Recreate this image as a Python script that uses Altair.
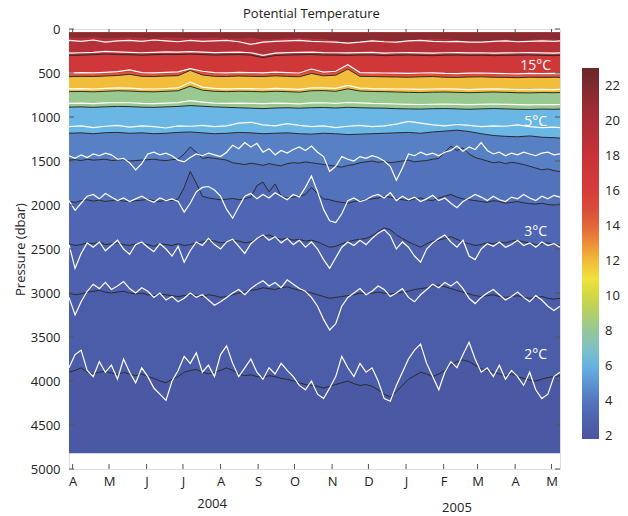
import altair as alt
import pandas as pd

alt.data_transformers.disable_max_rows()

FONT = "Open Sans"

# ---------------- sampling of the time axis ----------------
FINE_DATES = [d.strftime("%Y-%m-%d") for d in pd.date_range("2004-03-29", periods=82, freq="5D")]
COARSE_DATES = FINE_DATES[0::2] + [FINE_DATES[-1]]

MONTH_TICKS = ["2004-04-01", "2004-05-01", "2004-06-01", "2004-07-01", "2004-08-01",
               "2004-09-01", "2004-10-01", "2004-11-01", "2004-12-01", "2005-01-01",
               "2005-02-01", "2005-03-01", "2005-04-01", "2005-05-01"]
PRESSURE_TICKS = [0, 500, 1000, 1500, 2000, 2500, 3000, 3500, 4000, 4500, 5000]
COLORBAR_TICKS = [2, 4, 6, 8, 10, 12, 14, 16, 18, 20, 22]

SURFACE = 40      # dbar, top of data
BOTTOM = 4820     # dbar, bottom of data

# ---------------- upper isotherms (10-day sampling) ----------------
b1 = [95, 100, 90, 105, 100, 95, 100, 110, 95, 100, 105,
      100, 95, 105, 110, 100, 120, 115, 105, 100, 110,
      115, 130, 165, 150, 120, 125, 150, 135, 120, 110,
      115, 125, 155, 150, 135, 120, 130, 125, 115, 120, 125, 120][:42]
w1 = [130, 140, 125, 150, 135, 130, 140, 125, 135, 145, 130,
      140, 135, 130, 145, 175, 150, 140, 135, 130, 140,
      145, 150, 160, 150, 135, 145, 150, 135, 130, 140,
      145, 140, 150, 150, 140, 135, 145, 140, 135, 140, 135]
w2 = [275, 270, 265, 255, 260, 265, 270, 265, 260, 262, 258,
      262, 268, 265, 262, 270, 300, 275, 268, 265, 262,
      268, 270, 272, 268, 266, 275, 270, 268, 272, 275,
      270, 268, 272, 270, 275, 272, 270, 268, 272, 275, 272]
b2 = [300, 298, 292, 285, 290, 292, 298, 292, 288, 290, 285,
      290, 296, 294, 290, 298, 325, 302, 296, 293, 290,
      296, 298, 300, 296, 295, 303, 298, 296, 300, 303,
      298, 296, 300, 298, 303, 300, 298, 296, 300, 303, 300]
w3 = [500, 495, 498, 492, 485, 465, 495, 498, 492, 488, 450,
      480, 495, 498, 492, 495, 498, 490, 495, 500, 455,
      490, 480, 405, 495, 498, 500, 502, 505, 500, 498,
      505, 508, 502, 500, 505, 508, 510, 505, 508, 505, 508]
b3 = [515, 510, 512, 506, 500, 485, 510, 512, 506, 502, 455,
      495, 510, 512, 506, 510, 512, 505, 510, 515, 475,
      505, 495, 425, 510, 512, 515, 517, 520, 515, 512,
      520, 522, 517, 515, 520, 522, 525, 520, 522, 520, 522]
bo = [542, 538, 540, 534, 528, 515, 538, 540, 534, 530, 470,
      522, 538, 540, 534, 538, 540, 532, 538, 543, 505,
      532, 525, 455, 538, 540, 543, 545, 548, 543, 540,
      548, 550, 545, 543, 548, 550, 553, 548, 550, 548, 550]
w4 = [680, 678, 682, 675, 670, 672, 680, 682, 676, 670, 605,
      660, 675, 680, 676, 678, 682, 675, 680, 685, 670,
      668, 675, 640, 672, 678, 680, 682, 684, 686, 682,
      680, 684, 688, 684, 680, 684, 688, 690, 686, 688, 686]
b4 = [712, 710, 714, 708, 702, 705, 712, 714, 708, 702, 650,
      695, 708, 712, 708, 710, 714, 708, 712, 718, 702,
      700, 708, 680, 705, 710, 712, 716, 720, 722, 718,
      716, 720, 724, 720, 716, 720, 724, 726, 722, 724, 722]
w5 = [845, 842, 848, 840, 835, 838, 845, 848, 842, 836, 815,
      830, 842, 846, 842, 845, 848, 842, 846, 850, 840,
      838, 845, 835, 840, 846, 848, 852, 856, 858, 855,
      852, 856, 860, 856, 852, 856, 860, 862, 858, 860, 858]
b5 = [888, 885, 890, 884, 880, 882, 888, 890, 885, 880, 870,
      878, 885, 890, 895, 900, 905, 898, 895, 900, 895,
      892, 898, 890, 895, 898, 900, 905, 908, 910, 906,
      904, 908, 912, 908, 904, 908, 912, 914, 910, 912, 910]
w6 = [1110, 1100, 1120, 1105, 1095, 1115, 1100, 1110, 1125, 1100, 1105,
      1095, 1110, 1100, 1070, 1060, 1090, 1100, 1075, 1095, 1110,
      1100, 1120, 1105, 1095, 1110, 1100, 1080, 1050, 1070, 1090,
      1100, 1085, 1095, 1110, 1100, 1105, 1090, 1110, 1120, 1115, 1120]
b6 = [1185, 1180, 1190, 1178, 1175, 1185, 1180, 1190, 1185, 1175, 1170,
      1180, 1190, 1185, 1175, 1180, 1190, 1185, 1180, 1190, 1195,
      1185, 1190, 1200, 1195, 1190, 1185, 1180, 1175, 1185, 1170,
      1160, 1150, 1165, 1190, 1210, 1220, 1225, 1215, 1230, 1235, 1240]

# ---------------- deep isotherms (5-day sampling) ----------------
w7 = [1440, 1470, 1430, 1460, 1420, 1440, 1410,
      1430, 1480, 1470, 1520, 1600, 1530,
      1420, 1400, 1430, 1410, 1440, 1490,
      1510, 1460, 1420, 1440, 1410,
      1430, 1450, 1400,
      1320, 1360, 1290, 1340, 1300,
      1400, 1360, 1430, 1380, 1410,
      1370, 1340, 1380, 1330, 1400, 1450,
      1620, 1560, 1450,
      1480, 1500, 1450, 1470, 1440, 1460, 1500, 1560,
      1720, 1580,
      1420, 1440, 1400, 1430, 1410, 1440, 1400,
      1380, 1330, 1390, 1340, 1370, 1290, 1380,
      1420, 1400, 1440, 1410, 1430, 1400, 1420, 1440, 1410, 1400, 1430, 1420]
b7 = [1490, 1485, 1495, 1480, 1490, 1485, 1480, 1495, 1490, 1485, 1500, 1495, 1490, 1485, 1480, 1490, 1495, 1485, 1480,
      1420, 1340, 1400, 1470,
      1460, 1470, 1480, 1490,
      1520, 1530, 1540, 1525, 1535, 1550, 1530, 1545, 1555, 1530, 1520,
      1525, 1510, 1520, 1530, 1540, 1550,
      1560, 1570, 1550, 1540, 1520, 1510, 1500, 1515, 1505, 1520,
      1510, 1500, 1490, 1510, 1500, 1495, 1480, 1470,
      1400, 1330, 1380, 1350, 1420, 1460,
      1480, 1500, 1520, 1510, 1530, 1515, 1525, 1540,
      1560, 1580, 1600, 1590, 1610, 1620]
w8 = [1950, 2060, 1980,
      1900, 1880, 1930, 1870, 1910,
      1950, 1920, 1960, 1930, 1900, 1940, 1970, 1920, 1950, 1930, 1960,
      2080, 1980,
      1850, 1800, 1790, 1830,
      1900, 2050, 2150, 2020,
      1900, 1870, 1930, 1880, 1920, 1860, 1900, 1940, 1880, 1910,
      1800, 1670, 1850,
      2050, 2180, 2200, 2100,
      1950, 1920, 1960, 1940, 1900,
      1880, 1920, 1860, 1950, 1900,
      1940, 1910, 1960, 1930, 1890, 1950, 1920,
      1980, 2030, 1960, 1920, 1880,
      1910, 1950, 1900, 1940, 1960, 1910,
      1930, 1880, 1920, 1950, 1900, 1930, 1890, 1910]
b8 = [1960, 1970, 1950, 1940, 1955, 1945, 1960, 1950, 1940, 1955, 1960, 1950, 1945, 1935, 1950, 1960, 1940, 1950, 1930,
      1800, 1620, 1750,
      1900, 1920, 1930, 1940, 1935, 1925, 1940, 1930, 1910,
      1780, 1740, 1850, 1760,
      1900, 1920, 1910, 1900, 1880, 1800, 1870,
      1930, 1940, 1960, 1970, 1980, 1960, 1950, 1940, 1930,
      1920, 1900, 1910, 1930, 1940, 1950, 1930, 1920, 1940, 1950,
      1920, 1900, 1880, 1910, 1930, 1940, 1950,
      1960, 1970, 1950, 1960, 1980, 1970, 1960, 1975, 1985, 1990, 1980, 1995, 2000, 1990]
w9 = [2450, 2720, 2550, 2430, 2480, 2420, 2520, 2460, 2400, 2500,
      2560, 2450, 2420, 2480, 2530, 2440, 2500, 2580, 2470, 2650,
      2520, 2420, 2460, 2380, 2450, 2500, 2420, 2390, 2470, 2550,
      2440, 2380, 2340, 2400, 2360, 2430, 2380, 2450, 2400, 2480,
      2420, 2500, 2620, 2720, 2600, 2480, 2420, 2460, 2400, 2450,
      2380, 2320, 2280, 2350, 2500, 2420, 2480, 2580, 2650, 2500,
      2430, 2380, 2340, 2420, 2480, 2400, 2580, 2620, 2500, 2440,
      2470, 2420, 2480, 2450, 2400, 2460, 2430, 2480, 2420, 2460,
      2440, 2480]
b9 = [2440, 2460, 2450, 2430, 2440, 2420, 2450, 2440, 2430, 2450, 2460, 2440, 2430, 2450, 2470, 2440, 2450, 2460, 2440,
      2460, 2450, 2430, 2420, 2400, 2410, 2430, 2420, 2400, 2410, 2430, 2420,
      2380, 2360, 2340, 2370, 2390, 2380, 2400, 2390, 2410, 2400, 2420,
      2450, 2480, 2470, 2440, 2420, 2400, 2390, 2380, 2350,
      2300, 2260, 2280, 2340, 2380,
      2420, 2450, 2480, 2440, 2410, 2400, 2380, 2360, 2390, 2420, 2440, 2460,
      2450, 2430, 2440, 2420, 2430, 2410, 2400, 2420, 2430, 2450, 2440, 2430, 2450, 2460]
w10 = [3050, 3250, 3100, 2980, 2900, 2950, 2880, 2960, 2920, 2870,
       2950, 3000, 2940, 2980, 3050, 3000, 3080, 3040, 3100, 3060,
       3000, 3050, 3020, 3080, 3140, 3100, 3050, 3000, 2960, 3020,
       2950, 2900, 2860, 2920, 2880, 2940, 2850, 2900, 2950, 2980,
       3050, 3150, 3300, 3420, 3350, 3150, 3050, 3000, 2950, 3020,
       2980, 2920, 2960, 3040, 3000, 2950, 3050, 3100, 3020, 2960,
       2900, 2940, 2880, 2920, 2870, 2950, 3060, 3120, 3050, 3000,
       2960, 3020, 3080, 3040, 2990, 3050, 3100, 3030, 3080, 3150,
       3200, 3150]
b10 = [3000, 3020, 3010, 2990, 2980, 2970, 2990, 3000, 2990, 2980, 3000, 3010, 3000, 3020, 3030, 3010, 3020, 3030, 3040, 3030, 3020,
       3030, 3040, 3020, 3030, 3050, 3040, 3020, 3000, 2990, 2970, 2960, 2940, 2950, 2960, 2940, 2930, 2950, 2970, 2980, 3000, 3020,
       3040, 3060, 3050, 3040, 3030, 3020, 3000, 3010, 3000,
       2990, 3000, 3010, 3000, 2990, 2980, 2960, 2950, 2940, 2920, 2910, 2930, 2950, 2970, 2990, 3010, 3030,
       3040, 3030, 3020, 3040, 3050, 3040, 3030, 3050, 3060, 3050, 3040, 3060, 3070, 3060]
w11 = [3850, 3700, 3650, 3880, 3950, 3780, 3900, 3820, 3980, 3750,
       3900, 4020, 3850, 3950, 4080, 4150, 4220, 4000, 3880, 3720,
       3800, 3680, 3900, 3820, 3950, 3700, 3600, 3800, 3950, 3850,
       3750, 3900, 3980, 3850, 3920, 3800, 3880, 3950, 4050, 4100,
       4000, 4150, 4200, 4080, 3950, 3720, 3850, 3950, 3800, 3900,
       3850, 4000, 4200, 4230, 4050, 3900, 3750, 3650, 3580, 3800,
       3950, 4100, 3900, 3780, 3850, 3700, 3560, 3750, 3900, 3850,
       3950, 3820, 3980, 3880, 3950, 4050, 3900, 4100, 4200, 4150,
       3950, 3900]
b11 = [3900, 3880, 3850, 3900, 3920, 3900, 3890, 3910, 3930, 3900, 3920, 3940, 3920, 3950, 3970,
       4000, 4020, 3980, 3950, 3900, 3880, 3870, 3900, 3920, 3900, 3880, 3850, 3880, 3920, 3940, 3930,
       3950, 3960, 3940, 3950, 3970, 3980, 4000, 4020, 4040, 4050, 4060, 4080, 4060, 4040, 4020, 4000, 4030, 4050, 4040, 4060,
       4100, 4150, 4180, 4120, 4050, 3980, 3940, 3900, 3920, 3950,
       3920, 3880, 3820, 3780, 3760, 3780, 3820, 3860, 3880, 3900,
       3920, 3940, 3920, 3950, 3970, 3990, 4000, 3980, 3960, 3950, 3940]

# band temperatures (°C) filling the space above each boundary
BAND_TEMPS = {"bottom": 2.1, "b11": 2.5, "b10": 2.9, "b9": 3.3, "b8": 3.9, "b7": 4.5,
              "b6": 6.2, "b5": 8.2, "b4": 12.0, "bo": 14.6, "b3": 17.0, "b2": 19.2, "b1": 21.6}

# colour map of the colour bar
CB_STOPS = [1.85, 2.5, 3.5, 4.5, 5.5, 6.2, 7, 8, 9, 10, 11, 12, 13, 14, 15, 16, 18, 20, 22, 23.05]
CB_COLORS = ["#4b55a0", "#4b5ca8", "#4f69b6", "#5880c5", "#61a5dd", "#6ab6e4", "#7ec0c6",
             "#93c79a", "#b0cf6c", "#cfd844", "#f0e23c", "#f2bd3b", "#ec9036", "#e2663a",
             "#d94c39", "#d63c3a", "#c93238", "#a92e36", "#812a2f", "#6b2629"]

ISO_LABELS = ["15°C", "5°C", "3°C", "2°C"]
ISO_LABEL_DATES = ["2005-04-18"] * 4
ISO_LABEL_DEPTHS = [415, 1060, 2310, 3700]

YEAR_LABELS = ["2004", "2005"]
YEAR_DATES = ["2004-07-25", "2005-02-12"]

TITLE = "Potential Temperature"
TITLE_DATE = "2004-10-15"

W, H = 491, 440


def dt(s):
    y, m, d = (int(v) for v in s.split("-"))
    return alt.DateTime(year=y, month=m, date=d, utc=True)


X_ENC = alt.X(
    "date:T",
    scale=alt.Scale(type="utc", domain=[dt("2004-03-29"), dt("2005-05-08")]),
    axis=alt.Axis(values=[dt(s) for s in MONTH_TICKS],
                  labelExpr="slice(utcFormat(datum.value, '%b'), 0, 1)",
                  title=None, ticks=False, domain=False, grid=False,
                  labelFont=FONT, labelFontSize=13, labelColor="#222",
                  labelPadding=6, labelOverlap=False, labelFlush=False),
)
Y_ENC = alt.Y(
    "depth:Q",
    scale=alt.Scale(domain=[0, 5000], reverse=True, nice=False, zero=False),
    axis=alt.Axis(values=PRESSURE_TICKS, format="d", title="Pressure (dbar)", ticks=False,
                  domain=False, grid=False, labelFont=FONT, labelFontSize=13,
                  labelColor="#222", labelPadding=9, labelFlush=False,
                  titleFont=FONT, titleFontSize=13, titleFontWeight="normal",
                  titleColor="#222", titlePadding=3),
)
COLOR_ENC = alt.Color(
    "temp:Q",
    scale=alt.Scale(domain=CB_STOPS, range=CB_COLORS, interpolate="rgb", nice=False, zero=False),
    legend=alt.Legend(orient="none", legendX=513, legendY=39, direction="vertical",
                      title=None, values=COLORBAR_TICKS, gradientLength=371,
                      gradientThickness=17, gradientStrokeWidth=0, padding=0,
                      labelFont=FONT, labelFontSize=13, labelColor="#222",
                      labelOffset=6, labelOverlap=False),
)


def band(dates, depths, temp):
    df = pd.DataFrame({"date": dates, "depth": depths, "temp": [temp] * len(dates)})
    return alt.Chart(df).mark_area(interpolate="linear").encode(
        x=X_ENC, y=Y_ENC, y2=alt.datum(SURFACE), color=COLOR_ENC)


def frame(dates, depths, name):
    return pd.DataFrame({"date": dates, "depth": depths, "line": name})


layers = [
    band([FINE_DATES[0], FINE_DATES[-1]], [BOTTOM, BOTTOM], BAND_TEMPS["bottom"]),
    band(FINE_DATES, b11, BAND_TEMPS["b11"]),
    band(FINE_DATES, b10, BAND_TEMPS["b10"]),
    band(FINE_DATES, b9, BAND_TEMPS["b9"]),
    band(FINE_DATES, b8, BAND_TEMPS["b8"]),
    band(FINE_DATES, b7, BAND_TEMPS["b7"]),
    band(COARSE_DATES, b6, BAND_TEMPS["b6"]),
    band(COARSE_DATES, b5, BAND_TEMPS["b5"]),
    band(COARSE_DATES, b4, BAND_TEMPS["b4"]),
    band(COARSE_DATES, bo, BAND_TEMPS["bo"]),
    band(COARSE_DATES, b3, BAND_TEMPS["b3"]),
    band(COARSE_DATES, b2, BAND_TEMPS["b2"]),
    band(COARSE_DATES, b1, BAND_TEMPS["b1"]),
]

black_df = pd.concat([
    frame(COARSE_DATES, b2, "b2"), frame(COARSE_DATES, bo, "bo"),
    frame(COARSE_DATES, b4, "b4"), frame(COARSE_DATES, b5, "b5"),
    frame(COARSE_DATES, b6, "b6"), frame(FINE_DATES, b7, "b7"),
    frame(FINE_DATES, b8, "b8"), frame(FINE_DATES, b9, "b9"),
    frame(FINE_DATES, b10, "b10"), frame(FINE_DATES, b11, "b11"),
])
white_df = pd.concat([
    frame(COARSE_DATES, w1, "w1"), frame(COARSE_DATES, w2, "w2"),
    frame(COARSE_DATES, w3, "w3"), frame(COARSE_DATES, w4, "w4"),
    frame(COARSE_DATES, w5, "w5"), frame(COARSE_DATES, w6, "w6"),
    frame(FINE_DATES, w7, "w7"), frame(FINE_DATES, w8, "w8"),
    frame(FINE_DATES, w9, "w9"), frame(FINE_DATES, w10, "w10"),
    frame(FINE_DATES, w11, "w11"),
])

layers.append(alt.Chart(black_df).mark_line(color="#2b2b2b", strokeWidth=1).encode(
    x=X_ENC, y=Y_ENC, detail="line:N"))
layers.append(alt.Chart(white_df).mark_line(color="white", strokeWidth=1.2).encode(
    x=X_ENC, y=Y_ENC, detail="line:N"))

# inward tick marks (MATLAB style box)
month_df = pd.DataFrame({"date": MONTH_TICKS})
press_df = pd.DataFrame({"depth": PRESSURE_TICKS})
tick_style = dict(color="#555", strokeWidth=1)
layers += [
    alt.Chart(month_df).mark_rule(**tick_style).encode(x=X_ENC, y=alt.value(0), y2=alt.value(5)),
    alt.Chart(month_df).mark_rule(**tick_style).encode(x=X_ENC, y=alt.value(H - 5), y2=alt.value(H)),
    alt.Chart(press_df).mark_rule(**tick_style).encode(y=Y_ENC, x=alt.value(0), x2=alt.value(5)),
    alt.Chart(press_df).mark_rule(**tick_style).encode(y=Y_ENC, x=alt.value(W - 5), x2=alt.value(W)),
]

iso_df = pd.DataFrame({"date": ISO_LABEL_DATES, "depth": ISO_LABEL_DEPTHS, "label": ISO_LABELS})
layers.append(alt.Chart(iso_df).mark_text(color="white", font=FONT, fontSize=14,
                                          align="center", baseline="middle").encode(
    x=X_ENC, y=Y_ENC, text="label:N"))

for lbl, d, ypix in zip(YEAR_LABELS, YEAR_DATES, [475, 479]):
    ydf = pd.DataFrame({"date": [d], "label": [lbl]})
    layers.append(alt.Chart(ydf).mark_text(color="#222", font=FONT, fontSize=13,
                                           align="center", baseline="middle").encode(
        x=X_ENC, y=alt.value(ypix), text="label:N"))

title_df = pd.DataFrame({"date": [TITLE_DATE], "label": [TITLE]})
layers.append(alt.Chart(title_df).mark_text(color="#222", font=FONT, fontSize=13,
                                            align="center", baseline="middle").encode(
    x=X_ENC, y=alt.value(-15), text="label:N"))

chart = alt.layer(*layers).properties(
    width=W, height=H,
    autosize=alt.AutoSizeParams(type="none"),
    padding={"left": 69, "top": 29, "right": 68, "bottom": 47},
).configure_view(stroke="#555", strokeWidth=1).configure(background="white")

chart.save("out.html", embed_options={"renderer": "svg", "actions": False})
